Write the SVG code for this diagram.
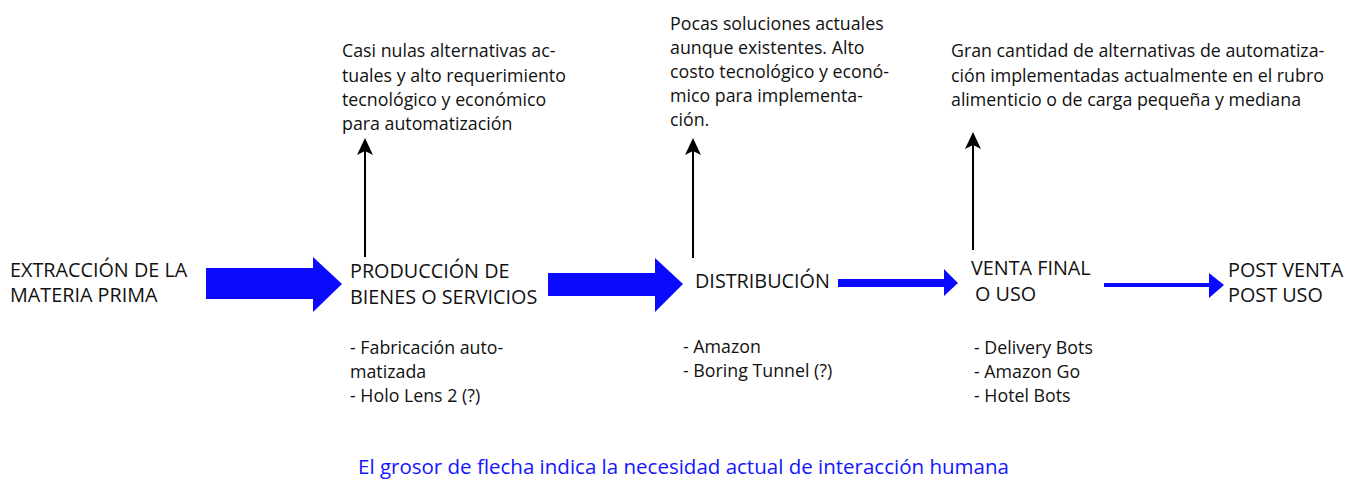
<svg xmlns="http://www.w3.org/2000/svg" width="1366" height="482" viewBox="0 0 1366 482">
<style>
.t{font-family:"Open Sans","Liberation Sans",sans-serif;fill:#111;}
.big{font-size:19.8px;}
.sm{font-size:17.8px;}
.cap{font-family:"Open Sans","Liberation Sans",sans-serif;font-size:20.5px;fill:#1414ff;}
.ba{fill:#0a0aff;}
.up{stroke:#000;stroke-width:2;fill:none;}
.uh{fill:#000;}
</style>
<rect width="1366" height="482" fill="#fff"/>
<g id="connectors">
<polygon class="ba" points="206,268 313,268 313,257 342,284 313,312 313,299 206,299"/>
<polygon class="ba" points="548,273 655,273 655,258 683,284 655,312 655,296 548,296"/>
<polygon class="ba" points="838,279 944,279 944,269 958,283 944,296 944,287 838,287"/>
<polygon class="ba" points="1104,283 1209,283 1209,273 1224,285 1209,298 1209,287 1104,287"/>
<line class="up" x1="365" y1="257" x2="365" y2="150"/>
<polygon class="uh" points="365,138 357,155 365,151 373,155"/>
<line class="up" x1="693" y1="258" x2="693" y2="150"/>
<polygon class="uh" points="693,138 685,155 693,151 701,155"/>
<line class="up" x1="973" y1="250" x2="973" y2="144"/>
<polygon class="uh" points="973,132 965,149 973,145 981,149"/>
</g>
<g id="node-extraccion">
<text class="t big" x="10" y="277">EXTRACCIÓN DE LA</text>
<text class="t big" x="10" y="302">MATERIA PRIMA</text>
</g>
<g id="node-produccion">
<text class="t big" x="350" y="278">PRODUCCIÓN DE</text>
<text class="t big" x="350" y="304">BIENES O SERVICIOS</text>
</g>
<g id="node-distribucion">
<text class="t big" x="695" y="288">DISTRIBUCIÓN</text>
</g>
<g id="node-venta">
<text class="t big" x="971" y="275">VENTA FINAL</text>
<text class="t big" x="975" y="301">O USO</text>
</g>
<g id="node-post">
<text class="t big" x="1228" y="277">POST VENTA</text>
<text class="t big" x="1228" y="302">POST USO</text>
</g>
<g id="note-produccion">
<text class="t sm" x="342" y="57">Casi nulas alternativas ac-</text>
<text class="t sm" x="342" y="82">tuales y alto requerimiento</text>
<text class="t sm" x="342" y="106">tecnológico y económico</text>
<text class="t sm" x="342" y="130">para automatización</text>
</g>
<g id="note-distribucion">
<text class="t sm" x="670" y="30">Pocas soluciones actuales</text>
<text class="t sm" x="670" y="54">aunque existentes. Alto</text>
<text class="t sm" x="670" y="78">costo tecnológico y econó-</text>
<text class="t sm" x="670" y="102">mico para implementa-</text>
<text class="t sm" x="670" y="126">ción.</text>
</g>
<g id="note-venta">
<text class="t sm" x="951" y="57">Gran cantidad de alternativas de automatiza-</text>
<text class="t sm" x="951" y="82">ción implementadas actualmente en el rubro</text>
<text class="t sm" x="951" y="106">alimenticio o de carga pequeña y mediana</text>
</g>
<g id="list-produccion">
<text class="t sm" x="350" y="354">- Fabricación auto-</text>
<text class="t sm" x="350" y="378">matizada</text>
<text class="t sm" x="350" y="402">- Holo Lens 2 (?)</text>
</g>
<g id="list-distribucion">
<text class="t sm" x="683" y="353">- Amazon</text>
<text class="t sm" x="683" y="377">- Boring Tunnel (?)</text>
</g>
<g id="list-venta">
<text class="t sm" x="974" y="354">- Delivery Bots</text>
<text class="t sm" x="974" y="378">- Amazon Go</text>
<text class="t sm" x="974" y="402">- Hotel Bots</text>
</g>
<g id="caption">
<text class="cap" x="358" y="474">El grosor de flecha indica la necesidad actual de interacción humana</text>
</g>
</svg>
